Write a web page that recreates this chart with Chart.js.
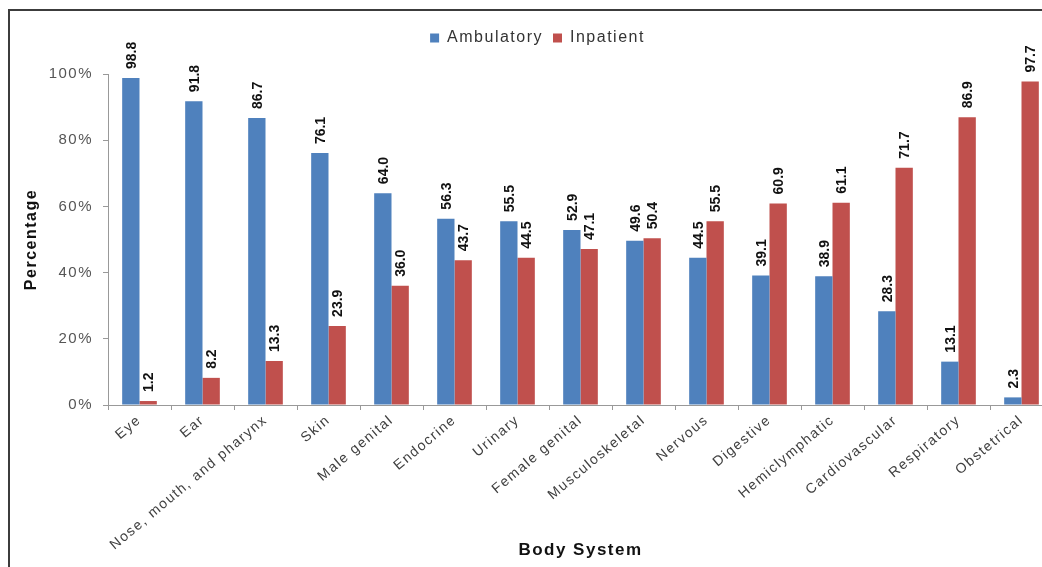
<!DOCTYPE html>
<html>
<head>
<meta charset="utf-8">
<script src="https://cdn.jsdelivr.net/npm/chart.js@4.4.1/dist/chart.umd.min.js"></script>
<style>
  html, body { margin: 0; padding: 0; background: #fff; overflow: hidden; width: 1042px; height: 567px; }
  #wrap { position: absolute; left: 0; top: 0; width: 1060px; height: 567px; }
  #frame { position: absolute; left: 8px; top: 9px; width: 1100px; height: 620px; border: 2px solid #3c3c3c; pointer-events: none; }
  canvas { display: block; }
</style>
</head>
<body>
<div id="wrap"><canvas id="c" width="1060" height="567"></canvas></div>
<div id="frame"></div>
<script>
const categories = ["Eye", "Ear", "Nose, mouth, and pharynx", "Skin", "Male genital", "Endocrine", "Urinary", "Female genital", "Musculoskeletal", "Nervous", "Digestive", "Hemiclymphatic", "Cardiovascular", "Respiratory", "Obstetrical"];
const ambulatory = [98.8, 91.8, 86.7, 76.1, 64.0, 56.3, 55.5, 52.9, 49.6, 44.5, 39.1, 38.9, 28.3, 13.1, 2.3];
const inpatient = [1.2, 8.2, 13.3, 23.9, 36.0, 43.7, 44.5, 47.1, 50.4, 55.5, 60.9, 61.1, 71.7, 86.9, 97.7];
const yTicks = [0, 20, 40, 60, 80, 100];

const FONT = '"Liberation Sans", Arial, sans-serif';
const SPACING = '1.5px';

const spacingPlugin = {
  id: 'spacing',
  beforeUpdate(chart) { chart.ctx.letterSpacing = SPACING; },
  beforeLayout(chart) { chart.ctx.letterSpacing = SPACING; },
  beforeDraw(chart) { chart.ctx.letterSpacing = SPACING; }
};

const valueLabels = {
  id: 'valueLabels',
  afterDatasetsDraw(chart) {
    const ctx = chart.ctx;
    chart.data.datasets.forEach((ds, i) => {
      const meta = chart.getDatasetMeta(i);
      meta.data.forEach((bar, j) => {
        ctx.save();
        ctx.letterSpacing = '0px';
        ctx.translate(bar.x + 1, bar.y - 9);
        ctx.rotate(-Math.PI / 2);
        ctx.font = 'bold 14px ' + FONT;
        ctx.fillStyle = '#111';
        ctx.textAlign = 'left';
        ctx.textBaseline = 'middle';
        ctx.fillText(ds.data[j].toFixed(1), 0, 0);
        ctx.restore();
      });
    });
  }
};

const legendSpace = {
  id: 'legendSpace',
  beforeInit(chart) {
    const orig = chart.legend.fit;
    chart.legend.fit = function () { orig.call(this); this.height += 18; };
  }
};

new Chart(document.getElementById('c'), {
  type: 'bar',
  data: {
    labels: categories,
    datasets: [
      { label: 'Ambulatory', data: ambulatory, backgroundColor: '#4F81BD', borderWidth: 0 },
      { label: 'Inpatient', data: inpatient, backgroundColor: '#C0504D', borderWidth: 0 }
    ]
  },
  plugins: [spacingPlugin, valueLabels, legendSpace],
  options: {
    responsive: false,
    animation: false,
    devicePixelRatio: 1,
    categoryPercentage: 0.55,
    barPercentage: 1.0,
    layout: { padding: { top: 20, right: 7, bottom: 2, left: 22 } },
    plugins: {
      legend: {
        position: 'top',
        labels: { font: { family: FONT, size: 16 }, color: '#333', boxWidth: 9, boxHeight: 9, padding: 10 }
      },
      tooltip: { enabled: false }
    },
    scales: {
      x: {
        offset: true,
        grid: { display: true, drawOnChartArea: false, offset: true, tickLength: 5, color: '#999' },
        border: { display: true, color: '#999' },
        ticks: { minRotation: 40, maxRotation: 40, autoSkip: false, font: { family: FONT, size: 14 }, color: '#404040', padding: 2 },
        title: { display: true, text: 'Body System', font: { family: FONT, size: 17, weight: 'bold' }, color: '#111', padding: { top: 4, bottom: 4 } },
        afterFit(scale) { scale.height = 160; }
      },
      y: {
        min: 0, max: 100,
        afterBuildTicks(scale) { scale.ticks = yTicks.map(v => ({ value: v })); },
        grid: { display: true, drawOnChartArea: false, tickLength: 5, color: '#999' },
        border: { display: true, color: '#999' },
        ticks: { callback: v => v + '%', font: { family: FONT, size: 15 }, color: '#555', padding: 10 },
        title: { display: true, text: 'Percentage', font: { family: FONT, size: 16, weight: 'bold' }, color: '#111', padding: { top: 0, bottom: 0 } },
        afterFit(scale) { scale.width = 86; }
      }
    }
  }
});
</script>
</body>
</html>
